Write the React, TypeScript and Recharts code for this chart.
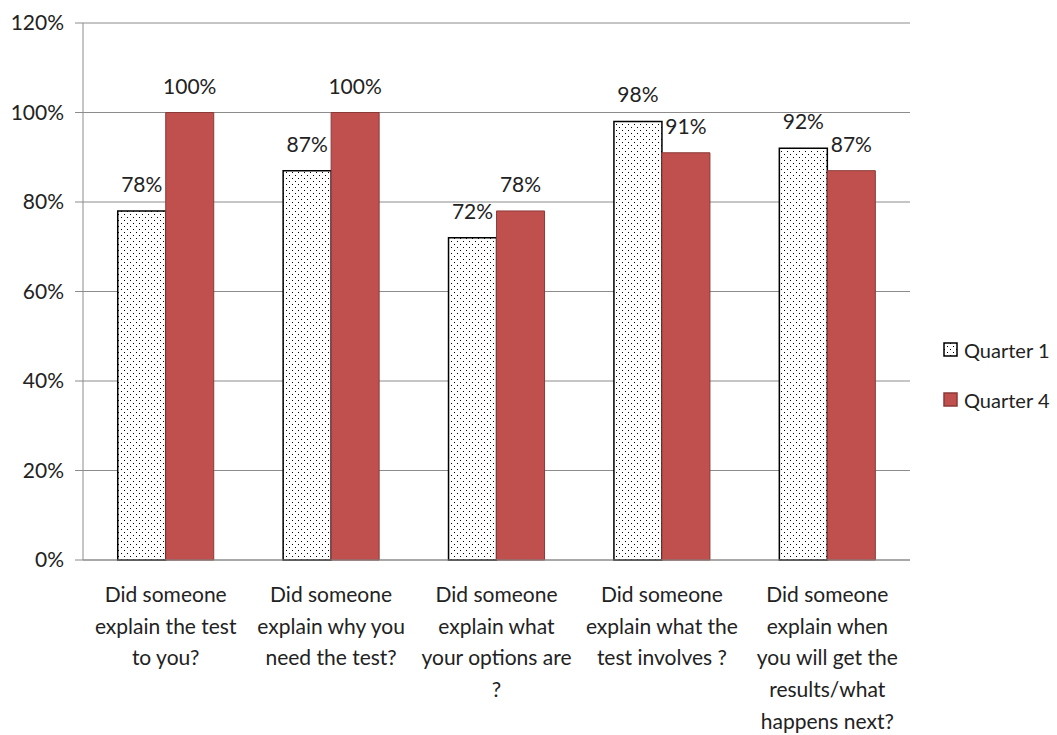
import { Bar, BarChart, CartesianGrid, LabelList, Legend, XAxis, YAxis } from "recharts"

const categories = [
  "Did someone explain the test to you?",
  "Did someone explain why you need the test?",
  "Did someone explain what your options are ?",
  "Did someone explain what the test involves ?",
  "Did someone explain when you will get the results/what happens next?",
]

// how the labels wrap in the original
const categoryLines = [
  ["Did someone", "explain the test", "to you?"],
  ["Did someone", "explain why you", "need the test?"],
  ["Did someone", "explain what", "your options are", "?"],
  ["Did someone", "explain what the", "test involves ?"],
  ["Did someone", "explain when", "you will get the", "results/what", "happens next?"],
]

const quarter1 = [78, 87, 72, 98, 92]
const quarter4 = [100, 100, 78, 91, 87]

const yTicks = [0, 20, 40, 60, 80, 100, 120]
const edgeTicks = [0, 1, 2, 3, 4, 5]

const data = categories.map((c, i) => ({ name: c, idx: i, q1: quarter1[i], q4: quarter4[i] }))

const FONT = "Lato, 'Open Sans', sans-serif"
const RED = "#C0504D"
const GRID = "#8c8c8c"

function CategoryTick(props: any) {
  const { x, y, payload } = props
  const lines = categoryLines[payload.index] || [payload.value]
  return (
    <text x={x} y={y} textAnchor="middle" fill="#222" fontSize={21} fontFamily={FONT}>
      {lines.map((l: string, i: number) => (
        <tspan key={i} x={x} y={y + 34 + i * 31.7}>
          {l}
        </tspan>
      ))}
    </text>
  )
}

function LegendBox() {
  const items = [
    { label: "Quarter 1", fill: "url(#dots)", stroke: "#000" },
    { label: "Quarter 4", fill: RED, stroke: "#8b3a38" },
  ]
  return (
    <div style={{ fontFamily: FONT, fontSize: 20, color: "#222" }}>
      {items.map((it) => (
        <div key={it.label} style={{ display: "flex", alignItems: "center", height: 50 }}>
          <svg width={16} height={16} style={{ marginRight: 5 }}>
            <rect x={1} y={1} width={13} height={13} fill={it.fill} stroke={it.stroke} strokeWidth={1.5} />
          </svg>
          <span>{it.label}</span>
        </div>
      ))}
    </div>
  )
}

export default function App() {
  return (
    <div style={{ position: "absolute", left: 0, top: 0, background: "#fff" }}>
      <BarChart
        width={1057}
        height={735}
        data={data}
        margin={{ top: 23, right: 147, left: 0, bottom: 0 }}
        barCategoryGap="21%"
        barGap={0}
      >
        <defs>
          <pattern id="dots" width={6} height={6} patternUnits="userSpaceOnUse">
            <rect width={6} height={6} fill="#fff" />
            <rect x={1} y={1} width={1} height={1} fill="#000" />
            <rect x={4} y={4} width={1} height={1} fill="#000" />
          </pattern>
        </defs>
        <CartesianGrid vertical={false} stroke={GRID} strokeWidth={1} />
        <XAxis
          xAxisId="edges"
          type="number"
          dataKey="idx"
          domain={[0, 5]}
          ticks={edgeTicks}
          height={0}
          tick={() => <g />}
          tickSize={8}
          axisLine={false}
          tickLine={{ stroke: GRID }}
          allowDataOverflow
        />
        <XAxis
          dataKey="name"
          height={175}
          tick={<CategoryTick />}
          tickLine={false}
          axisLine={{ stroke: GRID }}
          interval={0}
        />
        <YAxis
          width={83}
          domain={[0, 120]}
          ticks={yTicks}
          tickFormatter={(v) => `${v}%`}
          tickSize={8}
          tickMargin={11}
          axisLine={{ stroke: GRID }}
          tickLine={{ stroke: GRID }}
          tick={{ fill: "#222", fontSize: 21, fontFamily: FONT }}
        />
        <Legend
          layout="vertical"
          verticalAlign="middle"
          align="center"
          wrapperStyle={{ left: 943, top: 325, width: 114 }}
          content={<LegendBox />}
        />
        <Bar dataKey="q1" name="Quarter 1" fill="url(#dots)" stroke="#000" strokeWidth={1.5} isAnimationActive={false}>
          <LabelList
            dataKey="q1"
            position="top"
            offset={19}
            formatter={(v: any) => `${v}%`}
            style={{ fill: "#222", fontSize: 21, fontFamily: FONT }}
          />
        </Bar>
        <Bar dataKey="q4" name="Quarter 4" fill={RED} stroke="#8b3a38" strokeWidth={1} isAnimationActive={false}>
          <LabelList
            dataKey="q4"
            position="top"
            offset={19}
            formatter={(v: any) => `${v}%`}
            style={{ fill: "#222", fontSize: 21, fontFamily: FONT }}
          />
        </Bar>
      </BarChart>
    </div>
  )
}
